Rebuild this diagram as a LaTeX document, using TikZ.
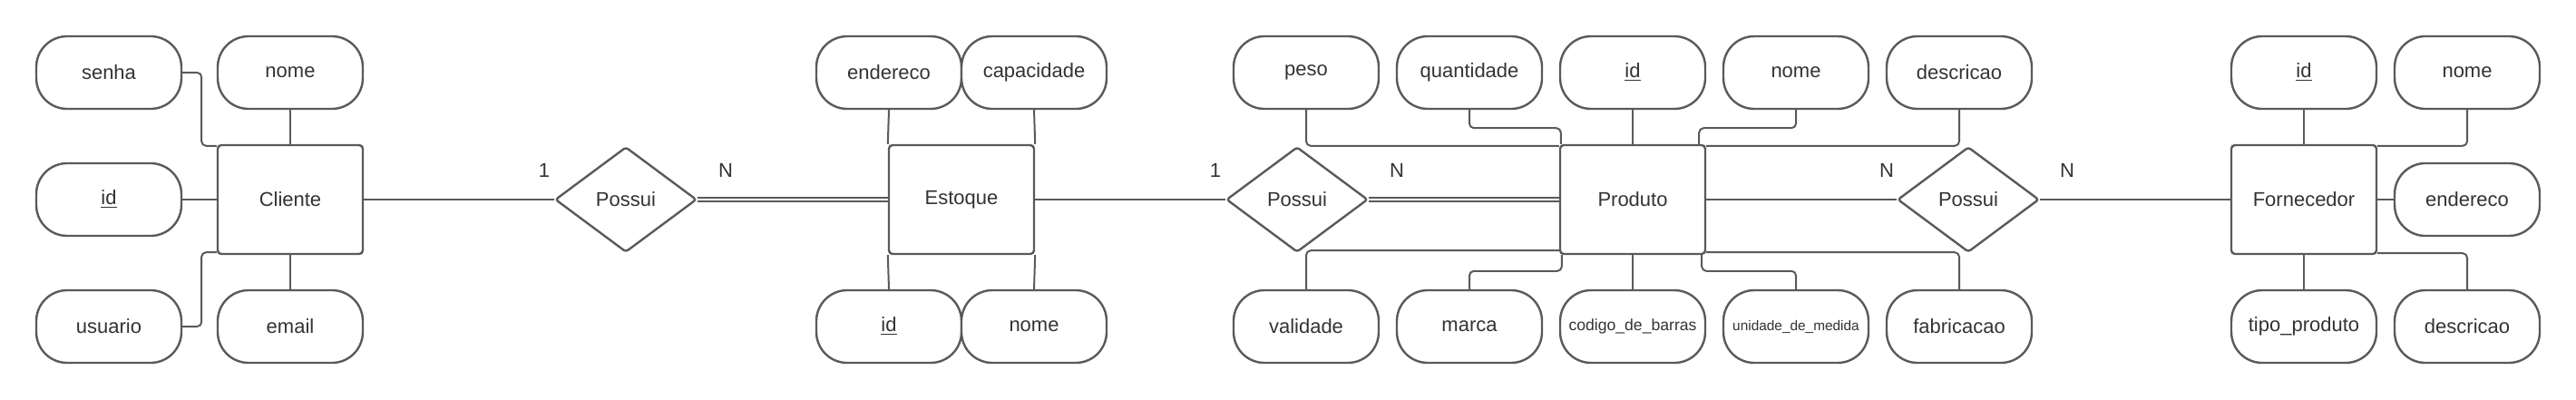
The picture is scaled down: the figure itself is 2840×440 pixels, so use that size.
\documentclass[tikz,border=0pt]{standalone}
\usepackage{fontspec}
\setmainfont{Liberation Sans}
\usetikzlibrary{shapes.geometric}
\definecolor{strk}{HTML}{5A5A5A}
\definecolor{txt}{HTML}{333333}
\begin{document}
\begin{tikzpicture}[x=0.5pt,y=-0.5pt,
  font=\fontsize{11}{13}\selectfont, text=txt,
  attr/.style={draw=strk, line width=1.2pt, rounded corners=17pt, minimum width=80pt, minimum height=40pt, inner sep=0pt, fill=white},
  entity/.style={draw=strk, line width=1.2pt, rounded corners=2pt, minimum width=80pt, minimum height=60pt, inner sep=0pt, fill=white},
  rel/.style={draw=strk, line width=1.2pt, diamond, minimum width=78pt, minimum height=58pt, inner sep=0pt, rounded corners=1.5pt, fill=white},
  conn/.style={draw=strk, line width=1pt, rounded corners=2.5pt},
  dconn/.style={draw=strk, line width=1pt, double=white, double distance=1pt},
  card/.style={inner sep=0pt},
  smallA/.style={font=\fontsize{8.8}{10}\selectfont},
  smallB/.style={font=\fontsize{7.7}{9}\selectfont}]
\useasboundingbox (0,0) rectangle (2840,440);

% Cliente
\node[entity] (cli) at (320,220) {Cliente};
\node[attr] (csenha) at (120,80) {senha};
\node[attr] (cnome) at (320,80) {nome};
\node[attr] (cid) at (120,220) {\underline{id}};
\node[attr] (cusu) at (120,360) {usuario};
\node[attr] (cemail) at (320,360) {email};

% Possui 1
\node[rel] (r1) at (690,220) {Possui};
\node[card] (l1a) at (600,188) {1};
\node[card] (l1b) at (800,188) {N};

% Estoque
\node[entity] (est) at (1060,220) {Estoque};
\node[attr] (eend) at (980,80) {endereco};
\node[attr] (ecap) at (1140,80) {capacidade};
\node[attr] (eid) at (980,360) {\underline{id}};
\node[attr] (enome) at (1140,360) {nome};

% Possui 2
\node[rel] (r2) at (1430,220) {Possui};
\node[card] (l2a) at (1340,188) {1};
\node[card] (l2b) at (1540,188) {N};

% Produto
\node[entity] (prod) at (1800,220) {Produto};
\node[attr] (ppeso) at (1440,80) {peso};
\node[attr] (pqtd) at (1620,80) {quantidade};
\node[attr] (pid) at (1800,80) {\underline{id}};
\node[attr] (pnome) at (1980,80) {nome};
\node[attr] (pdesc) at (2160,80) {descricao};
\node[attr] (pval) at (1440,360) {validade};
\node[attr] (pmarca) at (1620,360) {marca};
\node[attr,smallA] (pcod) at (1800,360) {codigo\_de\_barras};
\node[attr,smallB] (pun) at (1980,360) {unidade\_de\_medida};
\node[attr] (pfab) at (2160,360) {fabricacao};

% Possui 3
\node[rel] (r3) at (2170,220) {Possui};
\node[card] (l3a) at (2080,188) {N};
\node[card] (l3b) at (2279,188) {N};

% Fornecedor
\node[entity] (forn) at (2540,220) {Fornecedor};
\node[attr] (fid) at (2540,80) {\underline{id}};
\node[attr] (fnome) at (2720,80) {nome};
\node[attr] (fend) at (2720,220) {endereco};
\node[attr] (ftipo) at (2540,360) {tipo\_produto};
\node[attr] (fdesc) at (2720,360) {descricao};

% Cliente connectors
\draw[conn] (csenha.east) -- ++(21,0) |- ([yshift=-1pt]cli.north west);
\draw[conn] (cusu.east) -- ++(21,0) |- ([yshift=1.5pt]cli.south west);
\draw[conn] (cid.east) -- (cli.west);
\draw[conn] (cnome.south) -- (cli.north);
\draw[conn] (cemail.north) -- (cli.south);
\draw[conn] (cli.east) -- (r1.west);
\draw[dconn] (r1.east) -- (est.west);

% Estoque connectors
\draw[conn] (eend.south) -- (est.north west);
\draw[conn] (ecap.south) -- (est.north east);
\draw[conn] (eid.north) -- (est.south west);
\draw[conn] (enome.north) -- (est.south east);
\draw[conn] (est.east) -- (r2.west);
\draw[dconn] (r2.east) -- (prod.west);

% Produto connectors
\draw[conn] (ppeso.south) |- ([yshift=-1pt]prod.north west);
\draw[conn] (pqtd.south) -- ++(0,20) -| ([xshift=1pt]prod.north west);
\draw[conn] (pid.south) -- (prod.north);
\draw[conn] (pnome.south) -- ++(0,20) -| ([xshift=-4pt]prod.north east);
\draw[conn] (pdesc.south) |- ([yshift=-1pt]prod.north east);
\draw[conn] (pval.north) |- ([yshift=2.5pt]prod.south west);
\draw[conn] (pmarca.north) -- ++(0,-20) -| ([xshift=1.5pt]prod.south west);
\draw[conn] (pcod.north) -- (prod.south);
\draw[conn] (pun.north) -- ++(0,-20) -| ([xshift=-2.5pt]prod.south east);
\draw[conn] (pfab.north) |- ([yshift=1.5pt]prod.south east);
\draw[conn] (prod.east) -- (r3.west);
\draw[conn] (r3.east) -- (forn.west);

% Fornecedor connectors
\draw[conn] (fid.south) -- (forn.north);
\draw[conn] (fnome.south) |- ([yshift=-1pt]forn.north east);
\draw[conn] (fend.west) -- (forn.east);
\draw[conn] (ftipo.north) -- (forn.south);
\draw[conn] (fdesc.north) |- ([yshift=1pt]forn.south east);
\end{tikzpicture}
\end{document}
